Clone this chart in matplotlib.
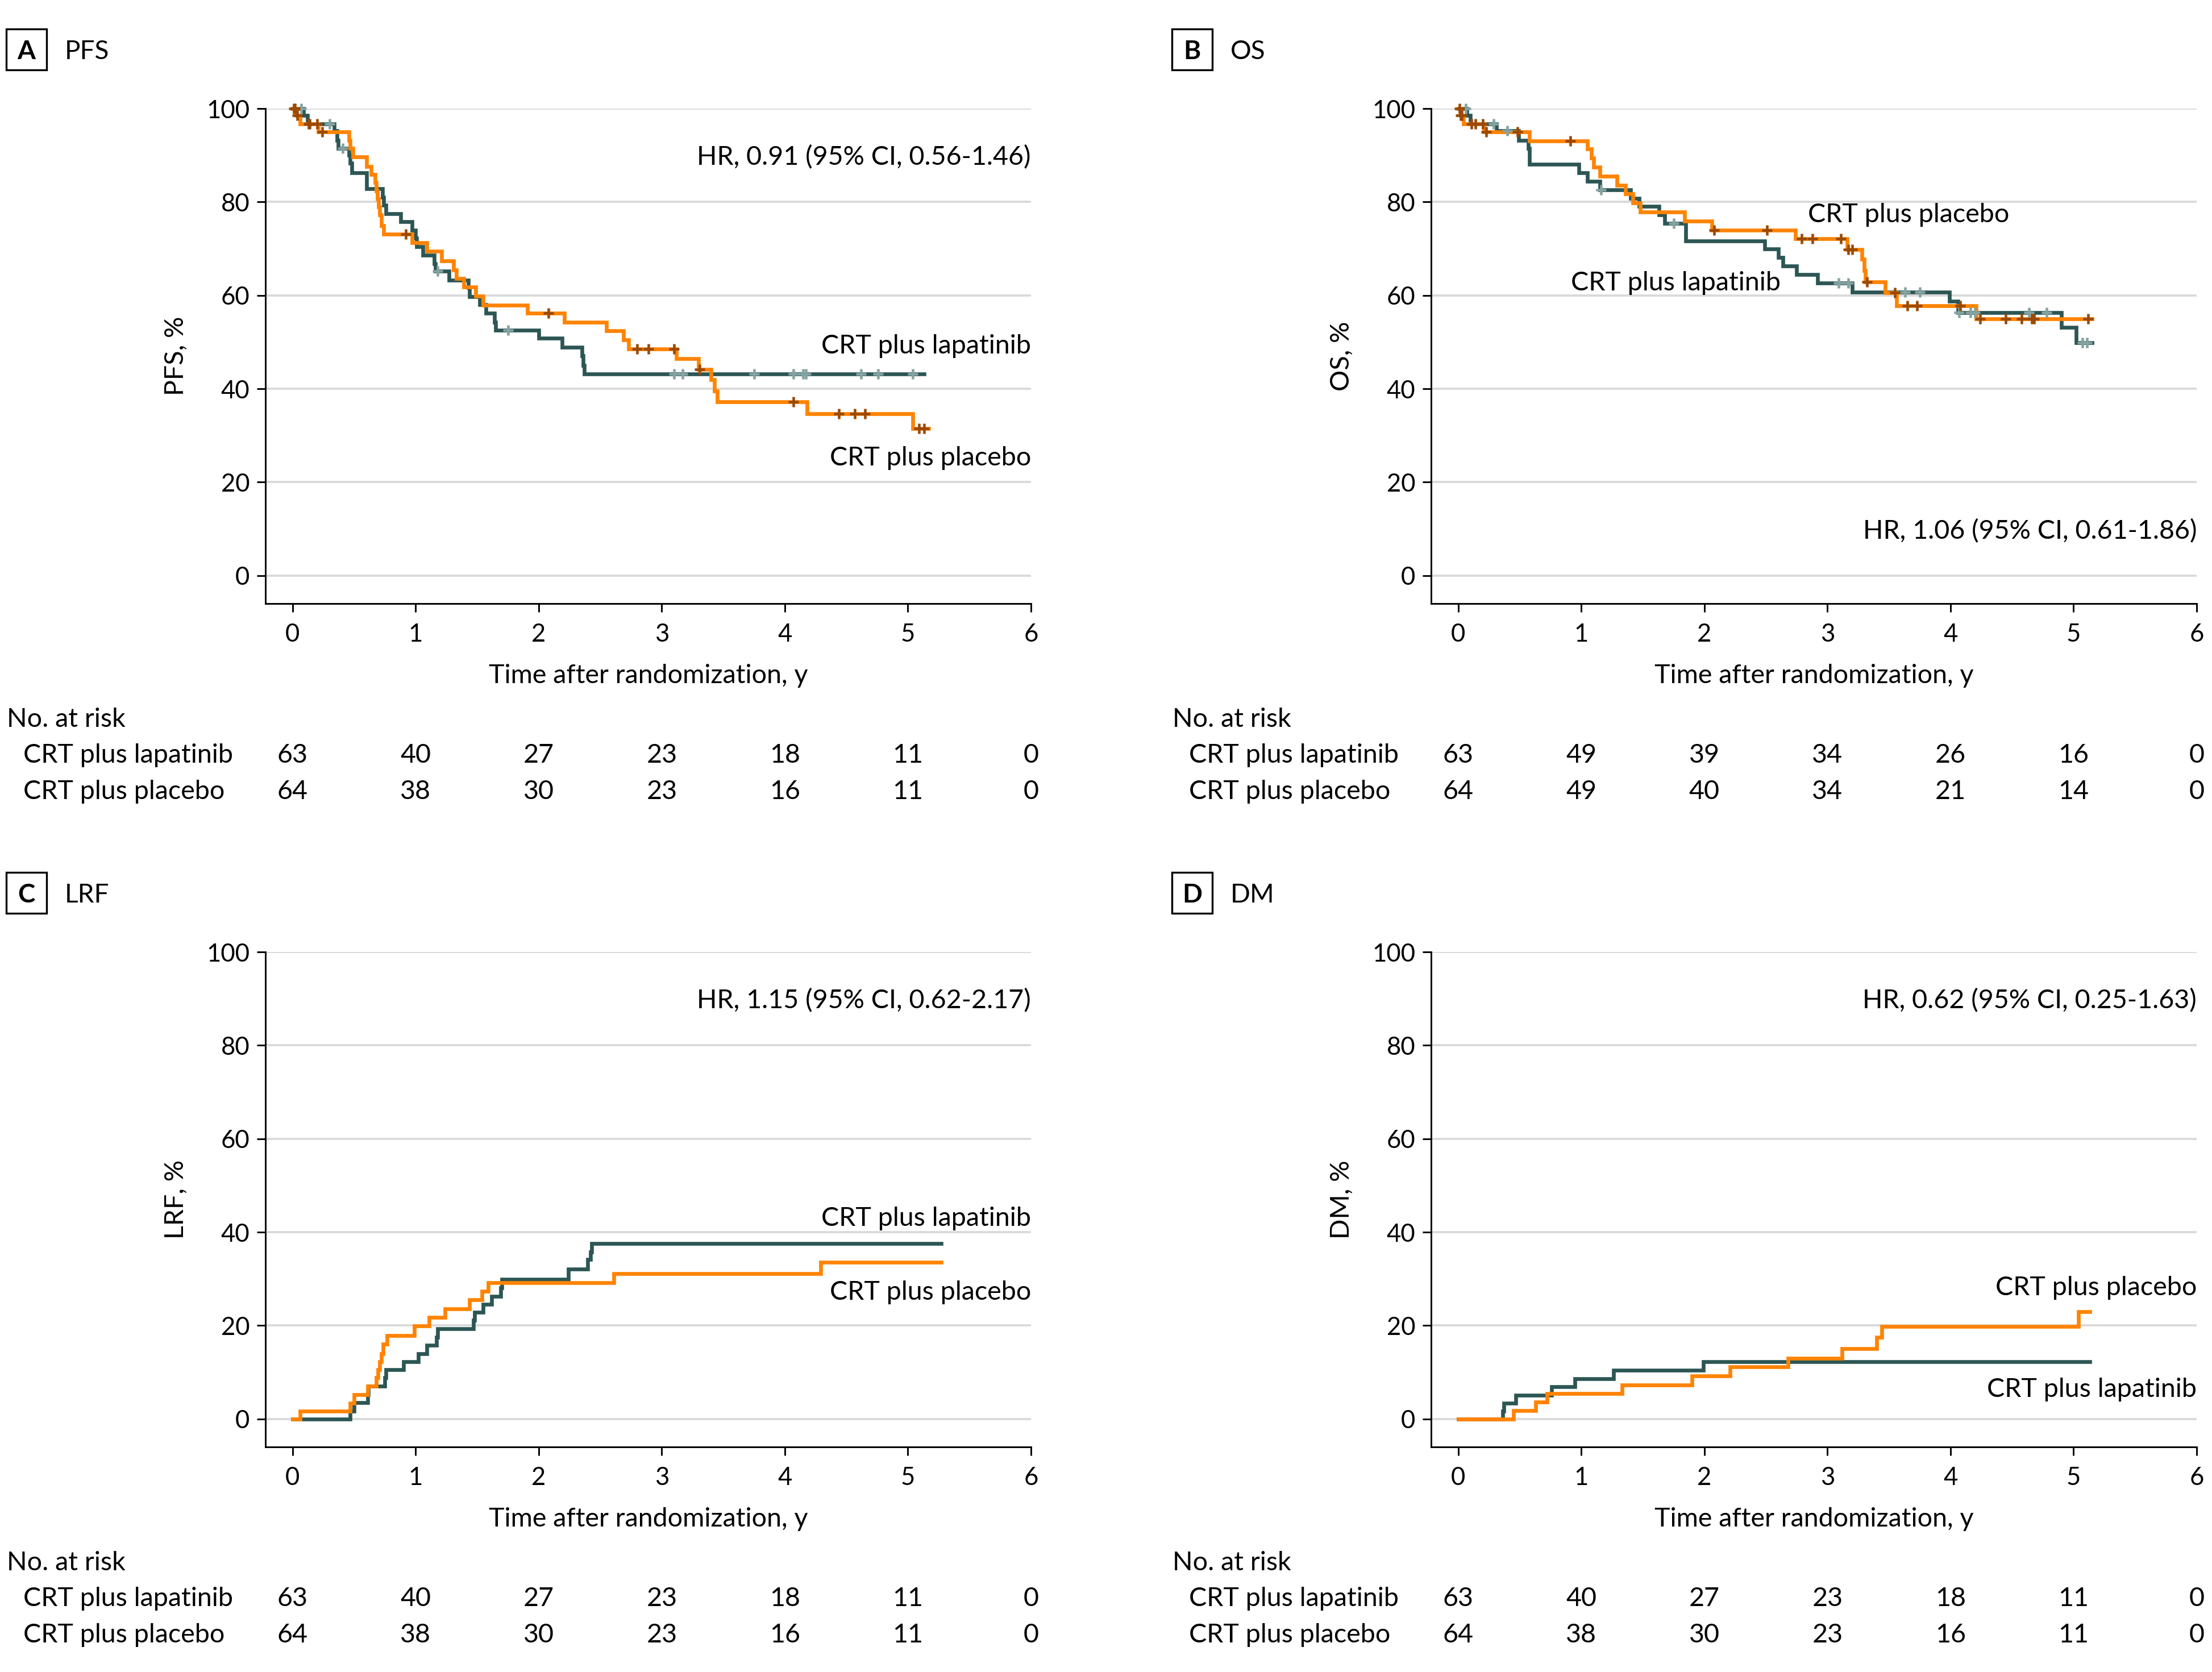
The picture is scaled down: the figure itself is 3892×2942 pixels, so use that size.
import numpy as np
import matplotlib
matplotlib.use('Agg')
import matplotlib.pyplot as plt
from matplotlib import transforms
from matplotlib.patches import Rectangle

plt.rcParams['font.family'] = ['Lato', 'DejaVu Sans']

W, H, DPI = 3892, 2942, 300

# ---------------- data ----------------
years = [0, 1, 2, 3, 4, 5, 6]
yticks = [0, 20, 40, 60, 80, 100]
group_names = ['CRT plus lapatinib', 'CRT plus placebo']

# Panel A: PFS
pfs_lap_t = [0, 0.09, 0.12, 0.34, 0.36, 0.37, 0.46, 0.47, 0.48, 0.60, 0.73, 0.74, 0.76, 0.88, 0.97, 1.00,
             1.01, 1.06, 1.15, 1.16, 1.27, 1.43, 1.44, 1.52, 1.57, 1.64, 1.65, 2.00, 2.19, 2.35, 2.36, 2.37]
pfs_lap_s = [100, 98.5, 96.7, 95.3, 93.2, 91.5, 90.0, 88.3, 86.2, 82.8, 81.0, 79.3, 77.5, 75.8, 74.0, 72.3,
             70.4, 68.6, 66.8, 65.2, 63.3, 61.7, 59.7, 58.0, 56.2, 54.3, 52.5, 50.8, 48.9, 47.1, 45.0, 43.2]
pfs_lap_end = 5.13
pfs_lap_cens = [0.07, 0.30, 0.41, 1.18, 1.75, 3.10, 3.17, 3.75, 4.07, 4.15, 4.17, 4.62, 4.76, 5.04]

pfs_pla_t = [0, 0.03, 0.06, 0.21, 0.46, 0.47, 0.49, 0.60, 0.64, 0.67, 0.68, 0.69, 0.70, 0.71, 0.72, 0.74,
             0.97, 1.09, 1.21, 1.31, 1.33, 1.39, 1.49, 1.55, 1.91, 2.21, 2.55, 2.69, 2.73, 3.12, 3.30,
             3.40, 3.43, 3.45, 4.18, 5.04]
pfs_pla_s = [100, 98.5, 96.7, 95.0, 93.2, 91.5, 89.6, 87.6, 85.9, 84.2, 82.4, 80.7, 78.9, 77.2, 74.9, 73.1,
             71.3, 69.4, 67.4, 65.4, 63.6, 61.8, 59.8, 57.9, 56.2, 54.3, 52.4, 50.5, 48.5, 46.4, 44.2,
             41.9, 39.5, 37.2, 34.7, 31.5]
pfs_pla_end = 5.17
pfs_pla_cens = [0.01, 0.02, 0.04, 0.13, 0.14, 0.20, 0.24, 0.92, 2.08, 2.80, 2.89, 3.10, 3.31, 4.07,
                4.44, 4.57, 4.65, 5.09, 5.13]

# Panel B: OS
os_lap_t = [0, 0.07, 0.10, 0.31, 0.49, 0.57, 0.58, 0.98, 1.05, 1.15, 1.40, 1.47, 1.63, 1.68, 1.85, 2.49,
            2.60, 2.64, 2.75, 2.92, 3.20, 3.99, 4.06, 4.90, 5.02]
os_lap_s = [100, 98.5, 96.7, 95.3, 93.2, 91.5, 88.1, 86.2, 84.4, 82.6, 80.8, 79.1, 77.2, 75.4, 71.7, 70.0,
            68.1, 66.3, 64.5, 62.6, 60.7, 58.7, 56.3, 53.1, 49.9]
os_lap_end = 5.15
os_lap_cens = [0.06, 0.29, 0.40, 1.16, 1.75, 3.09, 3.17, 3.63, 3.75, 4.07, 4.16, 4.20, 4.64, 4.78,
               5.07, 5.11]

os_pla_t = [0, 0.02, 0.045, 0.21, 0.58, 1.05, 1.08, 1.10, 1.15, 1.29, 1.36, 1.42, 1.48, 1.84, 2.06, 2.74,
            3.16, 3.28, 3.30, 3.31, 3.47, 3.56, 4.21]
os_pla_s = [100, 98.5, 96.7, 95.0, 93.1, 91.3, 89.4, 87.5, 85.5, 83.6, 81.7, 79.8, 77.9, 75.9, 74.0, 72.1,
            69.8, 67.7, 65.3, 62.9, 60.6, 57.8, 55.0]
os_pla_end = 5.15
os_pla_cens = [0.01, 0.02, 0.03, 0.11, 0.14, 0.20, 0.23, 0.48, 0.91, 2.08, 2.51, 2.79, 2.88, 3.11, 3.17,
               3.20, 3.32, 3.55, 3.65, 3.73, 4.08, 4.24, 4.45, 4.58, 4.66, 4.68, 5.12]

# Panel C: LRF (cumulative incidence)
lrf_lap_t = [0, 0.47, 0.50, 0.61, 0.615, 0.75, 0.76, 0.90, 1.02, 1.09, 1.17, 1.18, 1.47, 1.48, 1.55, 1.62,
             1.69, 1.70, 2.24, 2.40, 2.42, 2.43]
lrf_lap_s = [0, 1.7, 3.5, 5.2, 7.0, 8.8, 10.5, 12.3, 14.0, 15.8, 17.5, 19.3, 21.1, 22.8, 24.6, 26.3,
             28.1, 29.9, 32.1, 34.1, 35.8, 37.6]
lrf_lap_end = 5.27

lrf_pla_t = [0, 0.06, 0.47, 0.50, 0.61, 0.68, 0.695, 0.71, 0.72, 0.735, 0.77, 0.99, 1.11, 1.24, 1.44, 1.54,
             1.59, 2.61, 4.29]
lrf_pla_s = [0, 1.7, 3.4, 5.2, 7.0, 8.8, 10.6, 12.3, 14.0, 16.0, 17.9, 19.9, 21.7, 23.6, 25.5, 27.3,
             29.2, 31.1, 33.6]
lrf_pla_end = 5.27

# Panel D: DM (cumulative incidence)
dm_lap_t = [0, 0.36, 0.37, 0.47, 0.76, 0.95, 1.26, 1.99]
dm_lap_s = [0, 1.7, 3.4, 5.1, 6.9, 8.6, 10.4, 12.3]
dm_lap_end = 5.13

dm_pla_t = [0, 0.45, 0.63, 0.72, 1.33, 1.90, 2.21, 2.68, 3.12, 3.40, 3.44, 5.04]
dm_pla_s = [0, 1.8, 3.6, 5.4, 7.3, 9.2, 11.1, 13.0, 15.1, 17.5, 19.8, 23.0]
dm_pla_end = 5.13

# Number at risk
risk_A_lap = [63, 40, 27, 23, 18, 11, 0]
risk_A_pla = [64, 38, 30, 23, 16, 11, 0]
risk_B_lap = [63, 49, 39, 34, 26, 16, 0]
risk_B_pla = [64, 49, 40, 34, 21, 14, 0]
risk_C_lap = [63, 40, 27, 23, 18, 11, 0]
risk_C_pla = [64, 38, 30, 23, 16, 11, 0]
risk_D_lap = [63, 40, 27, 23, 18, 11, 0]
risk_D_pla = [64, 38, 30, 23, 16, 11, 0]

hr_A = 'HR, 0.91 (95% CI, 0.56-1.46)'
hr_B = 'HR, 1.06 (95% CI, 0.61-1.86)'
hr_C = 'HR, 1.15 (95% CI, 0.62-2.17)'
hr_D = 'HR, 0.62 (95% CI, 0.25-1.63)'

# ---------------- style ----------------
LAP = '#2c5654'
LAP_C = '#84a3a1'
PLA = '#ff8300'
PLA_C = '#9a4906'
GRID = '#d9d9d9'
FS_TICK = 10.5
FS = 11.2

fig = plt.figure(figsize=(W / DPI, H / DPI), dpi=DPI)


def fx(x):
    return x / W


def fy(y):
    return 1 - y / H


def val_at(t, s, c):
    i = np.searchsorted(np.asarray(t), c, side='right') - 1
    return np.asarray(s)[i]


panels = [
    dict(letter='A', title='PFS', ylabel='PFS, %', left=467, top=191, hr=hr_A, hr_y=87.9,
         lap=(pfs_lap_t, pfs_lap_s, pfs_lap_end, pfs_lap_cens),
         pla=(pfs_pla_t, pfs_pla_s, pfs_pla_end, pfs_pla_cens),
         lap_lab=(6, 47.6, 'right'), pla_lab=(6, 23.6, 'right'),
         risk=(risk_A_lap, risk_A_pla)),
    dict(letter='B', title='OS', ylabel='OS, %', left=2518, top=191, hr=hr_B, hr_y=7.9,
         lap=(os_lap_t, os_lap_s, os_lap_end, os_lap_cens),
         pla=(os_pla_t, os_pla_s, os_pla_end, os_pla_cens),
         lap_lab=(2.62, 61.1, 'right'), pla_lab=(2.84, 75.7, 'left'),
         risk=(risk_B_lap, risk_B_pla)),
    dict(letter='C', title='LRF', ylabel='LRF, %', left=467, top=1675, hr=hr_C, hr_y=87.9,
         lap=(lrf_lap_t, lrf_lap_s, lrf_lap_end, []),
         pla=(lrf_pla_t, lrf_pla_s, lrf_pla_end, []),
         lap_lab=(6, 41.4, 'right'), pla_lab=(6, 25.5, 'right'),
         risk=(risk_C_lap, risk_C_pla)),
    dict(letter='D', title='DM', ylabel='DM, %', left=2518, top=1675, hr=hr_D, hr_y=87.9,
         lap=(dm_lap_t, dm_lap_s, dm_lap_end, []),
         pla=(dm_pla_t, dm_pla_s, dm_pla_end, []),
         lap_lab=(6, 4.7, 'right'), pla_lab=(6, 26.5, 'right'),
         risk=(risk_D_lap, risk_D_pla)),
]

AX_W, AX_H = 1347, 871

for p in panels:
    L, T = p['left'], p['top']
    ax = fig.add_axes([fx(L), fy(T + AX_H), AX_W / W, AX_H / H])
    ax.set_xlim(-0.22, 6)
    ax.set_ylim(-6, 100)
    for sp in ['top', 'right']:
        ax.spines[sp].set_visible(False)
    for sp in ['left', 'bottom']:
        ax.spines[sp].set_linewidth(0.7)
    ax.set_xticks(years)
    ax.set_yticks(yticks)
    ax.tick_params(axis='both', direction='out', length=3.6, width=0.7, labelsize=FS_TICK,
                   colors='black')
    ax.tick_params(axis='x', pad=4.5)
    ax.tick_params(axis='y', pad=3.0)
    for yv in yticks:
        ax.axhline(yv, color=GRID, lw=0.9, zorder=0)

    # curves: lapatinib first, placebo on top
    for key, col, ccol, z in [('lap', LAP, LAP_C, 3), ('pla', PLA, PLA_C, 4)]:
        t, s, end, cens = p[key]
        xs = list(t) + [end]
        ys = list(s) + [s[-1]]
        ax.step(xs, ys, where='post', color=col, lw=1.6, zorder=z, clip_on=False,
                solid_joinstyle='miter')
        if len(cens):
            cy = [val_at(t, s, c) for c in cens]
            ax.plot(cens, cy, ls='none', marker='+', ms=4.2, mew=1.1, color=ccol, zorder=6,
                    clip_on=False)

    # annotations
    ax.text(6, p['hr_y'], p['hr'], ha='right', va='baseline', fontsize=FS)
    x, y, ha = p['lap_lab']
    ax.text(x, y, group_names[0], ha=ha, va='baseline', fontsize=FS)
    x, y, ha = p['pla_lab']
    ax.text(x, y, group_names[1], ha=ha, va='baseline', fontsize=FS)

    ax.text(0.5, -0.1458, 'Time after randomization, y', transform=ax.transAxes,
            ha='center', va='center', fontsize=FS)
    ax.text(-0.1166, 0.5, p['ylabel'], transform=ax.transAxes, rotation=90,
            ha='center', va='center', fontsize=FS)

    # panel label box and title
    ox = L - 467
    oy = T - 191
    fig.patches.append(Rectangle((fx(10.7 + ox), fy(122.7 + oy)), 71.3 / W, 72 / H,
                                 transform=fig.transFigure, fill=False, ec='black', lw=0.8))
    fig.text(fx(46.4 + ox), fy(104 + oy), p['letter'], ha='center', va='baseline',
             fontsize=11, fontweight='bold')
    fig.text(fx(114 + ox), fy(104 + oy), p['title'], ha='left', va='baseline', fontsize=11)

    # number at risk
    fig.text(fx(12 + ox), fy(1279 + oy), 'No. at risk', ha='left', va='baseline', fontsize=FS)
    trans = transforms.blended_transform_factory(ax.transData, fig.transFigure)
    for row, (name, counts) in enumerate(zip(group_names, p['risk'])):
        yb = 1342 + 64 * row + oy
        fig.text(fx(41 + ox), fy(yb), name, ha='left', va='baseline', fontsize=FS)
        for xv, n in zip(years, counts):
            ax.text(xv, fy(yb), str(n), transform=trans, ha='center', va='baseline',
                    fontsize=FS, clip_on=False)

fig.savefig('out.png', dpi=DPI)
